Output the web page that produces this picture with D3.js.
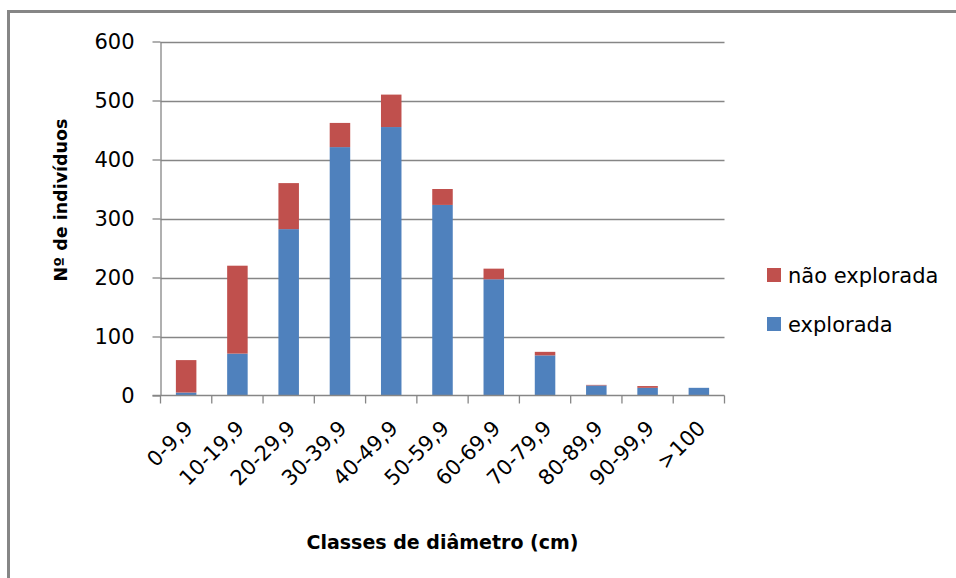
<!DOCTYPE html>
<html>
<head>
<meta charset="utf-8">
<script src="https://cdn.jsdelivr.net/npm/d3@7"></script>
<style>
  html, body { margin: 0; padding: 0; background: #fff; }
  svg { display: block; }
  text { font-family: "DejaVu Sans", sans-serif; fill: #000; }
</style>
</head>
<body>
<svg id="chart" width="956" height="578"></svg>
<script>
// Diameter classes and number of trees per class
const categories = ["0-9,9", "10-19,9", "20-29,9", "30-39,9", "40-49,9", "50-59,9",
                    "60-69,9", "70-79,9", "80-89,9", "90-99,9", ">100"];
const explorada    = [5, 71, 282, 421, 455, 323, 197, 68, 17, 13, 13];
const naoExplorada = [55, 149, 78, 41, 55, 27, 18, 6, 1, 3, 0];
const yTicks = [0, 100, 200, 300, 400, 500, 600];
const seriesNames = ["explorada", "não explorada"];
const seriesColors = ["#4F81BD", "#C0504D"];

const svg = d3.select("#chart");
const W = 956, H = 578;
const plot = { left: 160.5, right: 724.5, top: 41.5, bottom: 395.5 };
const gridColor = "#868686";

// Outer frame (left and top edges visible)
svg.append("line").attr("x1", 8.5).attr("x2", 8.5).attr("y1", 10).attr("y2", H)
  .attr("stroke", gridColor).attr("stroke-width", 3);
svg.append("line").attr("x1", 7).attr("x2", W).attr("y1", 11.5).attr("y2", 11.5)
  .attr("stroke", gridColor).attr("stroke-width", 3);

const x = d3.scaleBand().domain(categories)
  .range([plot.left, plot.right]).paddingInner(0.6).paddingOuter(0.3);
const y = d3.scaleLinear().domain([0, 600]).range([plot.bottom, plot.top]);

// Horizontal gridlines
svg.append("g").selectAll("line").data(yTicks.filter(d => d > 0)).join("line")
  .attr("x1", plot.left).attr("x2", plot.right)
  .attr("y1", d => Math.round(y(d)) + 0.5).attr("y2", d => Math.round(y(d)) + 0.5)
  .attr("stroke", gridColor).attr("stroke-width", 1.3);

// Stacked bars
const rows = categories.map((c, i) => ({ cat: c, explorada: explorada[i], nao: naoExplorada[i] }));
const stack = d3.stack().keys(["explorada", "nao"])(rows);
svg.append("g").selectAll("g").data(stack).join("g")
  .attr("fill", (d, i) => seriesColors[i])
  .selectAll("rect").data(d => d).join("rect")
  .attr("x", d => x(d.data.cat))
  .attr("width", x.bandwidth())
  .attr("y", d => y(d[1]))
  .attr("height", d => y(d[0]) - y(d[1]));

// Y axis
const yAxis = svg.append("g").attr("transform", `translate(${plot.left},0)`)
  .call(d3.axisLeft(y).tickValues(yTicks).tickSize(8).tickPadding(18).tickSizeOuter(0));
yAxis.select(".domain").attr("stroke", gridColor).attr("stroke-width", 1.3);
yAxis.selectAll(".tick line").attr("stroke", gridColor).attr("stroke-width", 1.3);
yAxis.selectAll(".tick text").style("font-size", "21px").attr("fill", "#000");

// X axis line with tick marks at category boundaries
const step = x.step();
const bounds = d3.range(categories.length + 1).map(i => plot.left + i * step);
svg.append("line").attr("x1", plot.left - 8).attr("x2", plot.right)
  .attr("y1", plot.bottom).attr("y2", plot.bottom)
  .attr("stroke", gridColor).attr("stroke-width", 1.6);
svg.append("g").selectAll("line").data(bounds).join("line")
  .attr("x1", d => d).attr("x2", d => d)
  .attr("y1", plot.bottom).attr("y2", plot.bottom + 8)
  .attr("stroke", gridColor).attr("stroke-width", 1.3);

// Rotated category labels
svg.append("g").selectAll("text").data(categories).join("text")
  .attr("transform", d => {
    const cx = x(d) + x.bandwidth() / 2 + 3;
    return `translate(${cx},${plot.bottom + 29}) rotate(-45)`;
  })
  .attr("text-anchor", "end")
  .attr("dominant-baseline", "central")
  .style("font-size", "21px")
  .text(d => d);

// Axis titles
svg.append("text")
  .attr("x", (plot.left + plot.right) / 2).attr("y", 549)
  .attr("text-anchor", "middle")
  .style("font-size", "19px").style("font-weight", "bold")
  .text("Classes de diâmetro (cm)");

svg.append("text")
  .attr("transform", `translate(67,200) rotate(-90)`)
  .attr("text-anchor", "middle")
  .style("font-size", "17.5px").style("font-weight", "bold")
  .text("Nº de indivíduos");

// Legend
const legendItems = [
  { name: seriesNames[1], color: seriesColors[1], y: 275 },
  { name: seriesNames[0], color: seriesColors[0], y: 324 }
];
const lg = svg.append("g").selectAll("g").data(legendItems).join("g");
lg.append("rect").attr("x", 767).attr("y", d => d.y - 7).attr("width", 14).attr("height", 14)
  .attr("fill", d => d.color);
lg.append("text").attr("x", 788).attr("y", d => d.y + 7.5)
  .style("font-size", "21px").text(d => d.name);
</script>
</body>
</html>
